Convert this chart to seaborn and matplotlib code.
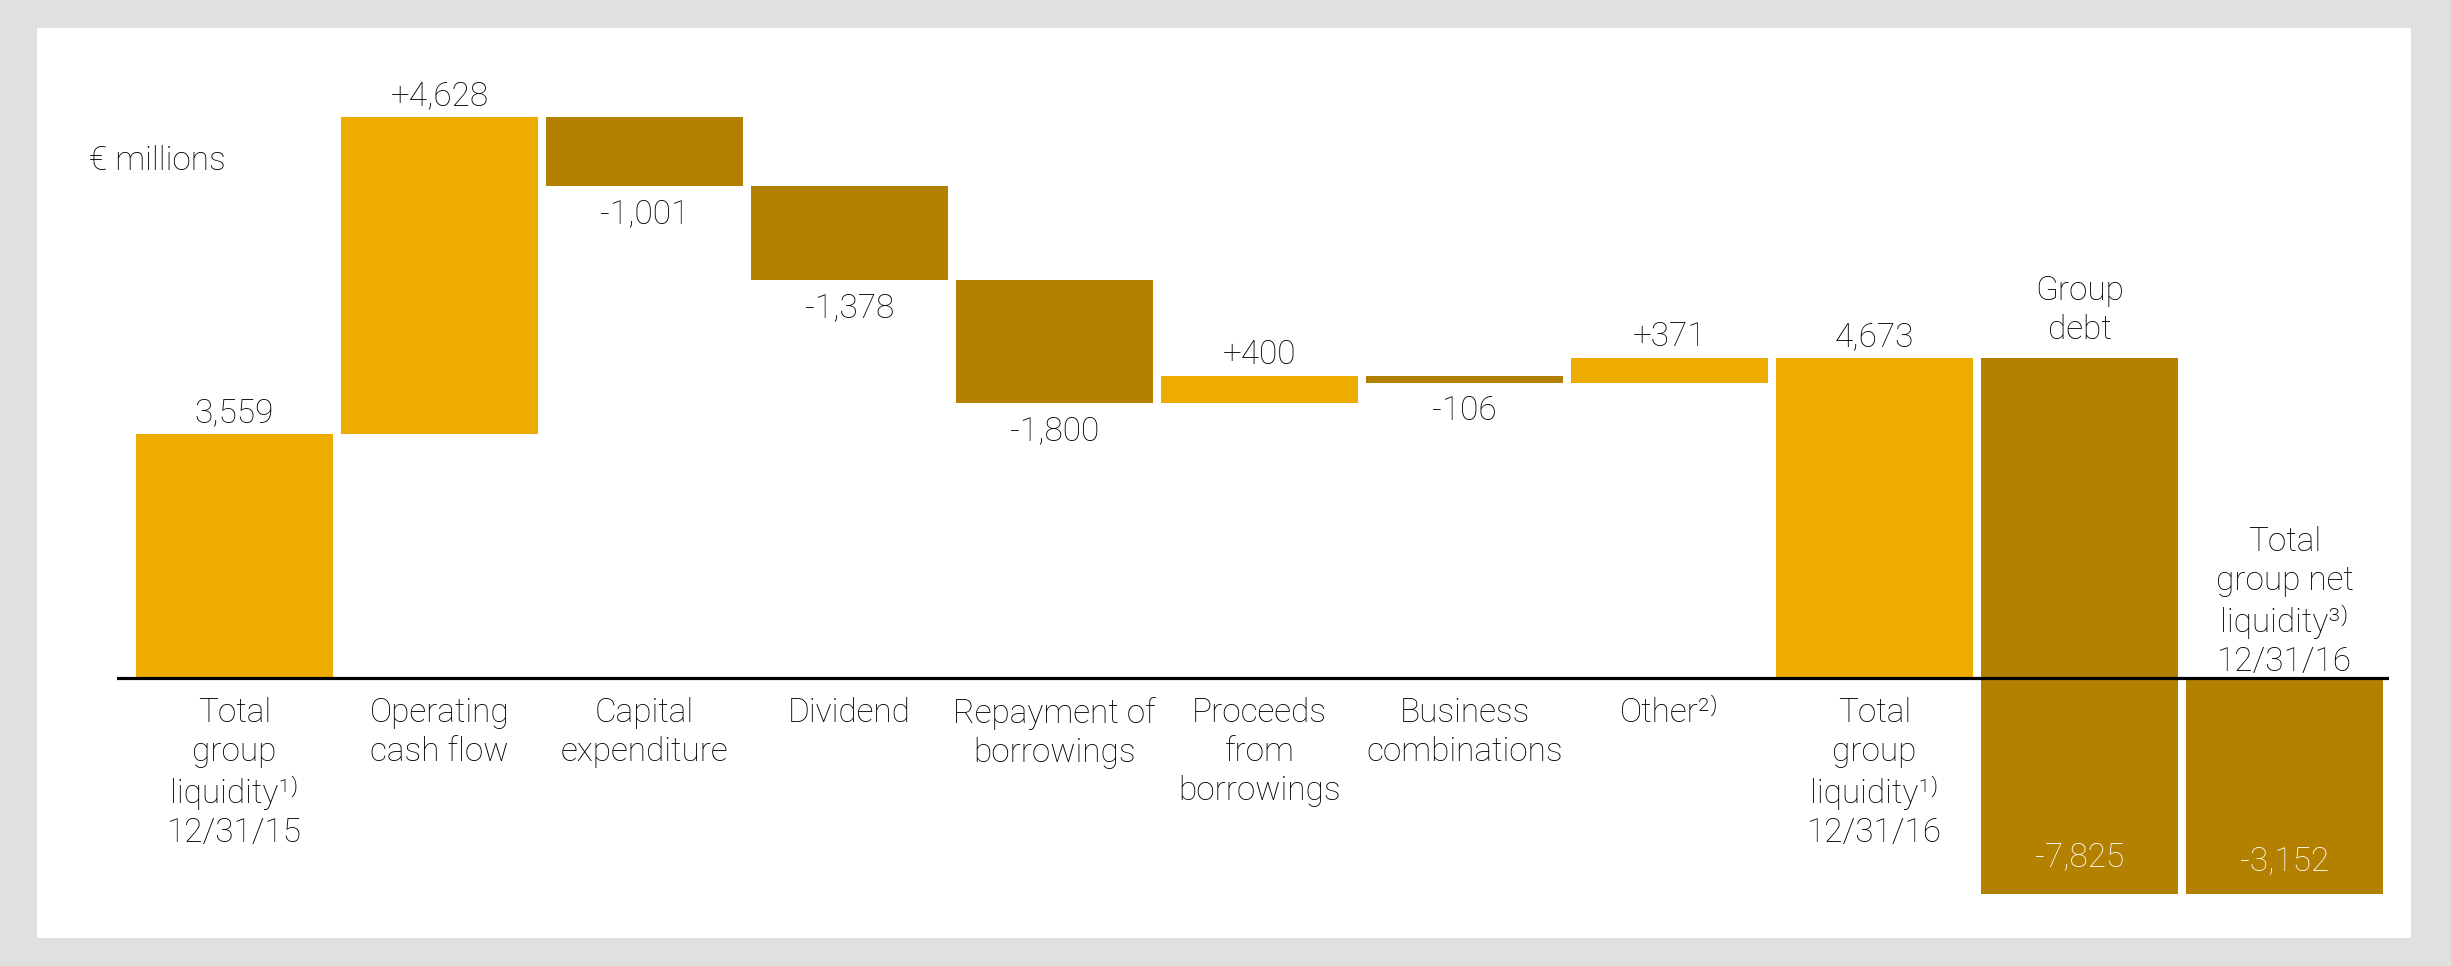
import matplotlib
matplotlib.use('Agg')
import matplotlib.pyplot as plt
from matplotlib.patches import Rectangle
import numpy as np
import pandas as pd
import seaborn as sns

# waterfall steps (€ millions)
steps = ['liq15', 'opcf', 'capex', 'dividend', 'repay', 'proceeds',
         'business', 'other', 'liq16', 'debt', 'net16']
values = [3559, 4628, -1001, -1378, -1800, 400, -106, 371, 4673, -7825, -3152]
is_total = [True, False, False, False, False, False, False, False, True, False, True]
value_labels = ['3,559', '+4,628', '-1,001', '-1,378', '-1,800', '+400', '-106',
                '+371', '4,673', '-7,825', '-3,152']
category_labels = ['Total\ngroup\nliquidity¹⁾\n12/31/15', 'Operating\ncash flow',
                   'Capital\nexpenditure', 'Dividend', 'Repayment of\nborrowings',
                   'Proceeds\nfrom\nborrowings', 'Business\ncombinations', 'Other²⁾',
                   'Total\ngroup\nliquidity¹⁾\n12/31/16', 'Group\ndebt',
                   'Total\ngroup net\nliquidity³⁾\n12/31/16']

LIGHT = '#EEAC00'
DARK = '#B38000'
TEXT = '#000000'

# bases of each bar from running total
bases = []
running = 0
for v, tot in zip(values, is_total):
    if tot:
        bases.append(0)
        running = v
    else:
        bases.append(running)
        running += v
df = pd.DataFrame({'step': steps, 'delta': values, 'base': bases})
df['step'] = pd.Categorical(df['step'], categories=steps, ordered=True)

sns.set_style('white')
plt.rcParams['font.family'] = ['Roboto', 'DejaVu Sans']

W, H = 2451, 966
fig = plt.figure(figsize=(W / 100, H / 100), dpi=100, facecolor='#E0E0E0')
fig.patches.append(Rectangle((37 / W, 1 - 938 / H), (2411 - 37) / W, (938 - 28) / H,
                             transform=fig.transFigure, facecolor='white',
                             edgecolor='none', zorder=-1))

ax = fig.add_axes([117 / W, 1 - 938 / H, (2389 - 117) / W, (938 - 28) / H])
ax.set_facecolor('none')

sns.barplot(data=df, x='step', y='delta', bottom=df['base'].values, width=0.961,
            errorbar=None, color=LIGHT, linewidth=0, ax=ax)
for p, v in zip(ax.patches, values):
    p.set_facecolor(DARK if v < 0 else LIGHT)

ax.axhline(0, color='black', lw=2.3, zorder=5)

px = 205.0
ax.set_xlim((117 - 234.5) / px, (2389 - 234.5) / px)
scale = 0.0685
ax.set_ylim(-(938 - 678) / scale, (678 - 28) / scale)
ax.axis('off')

fs = 24
wt = 'light'
ls = 1.28
off = 12 / scale  # label gap in data units
n = len(values)
for i in range(n):
    v, b = values[i], bases[i]
    top, bottom = max(b, b + v), min(b, b + v)
    if i == n - 2:
        # group debt: title above, value inside
        ax.text(i, top + off, category_labels[i], ha='center', va='bottom',
                fontsize=fs, color=TEXT, linespacing=ls, fontweight=wt)
        ax.text(i, bottom + 28 / scale, value_labels[i], ha='center', va='baseline',
                fontsize=fs, color='white', fontweight=wt)
    elif i == n - 1:
        ax.text(i, 0, category_labels[i], ha='center', va='bottom',
                fontsize=fs, color=TEXT, linespacing=ls, fontweight=wt)
        ax.text(i, bottom + 24 / scale, value_labels[i], ha='center', va='baseline',
                fontsize=fs, color='white', fontweight=wt)
    else:
        if v >= 0:
            ax.text(i, top + 12 / scale, value_labels[i], ha='center', va='baseline',
                    fontsize=fs, color=TEXT, fontweight=wt)
        else:
            ax.text(i, bottom - off, value_labels[i], ha='center', va='top',
                    fontsize=fs, color=TEXT, fontweight=wt)
        ax.text(i, -19 / scale, category_labels[i], ha='center', va='top',
                fontsize=fs, color=TEXT, linespacing=ls, fontweight=wt)

fig.text(89 / W, 1 - 161 / H, '€ millions', ha='left', va='center',
         fontsize=fs, color=TEXT, fontweight=wt)

fig.savefig('out.png', dpi=100, facecolor=fig.get_facecolor())
